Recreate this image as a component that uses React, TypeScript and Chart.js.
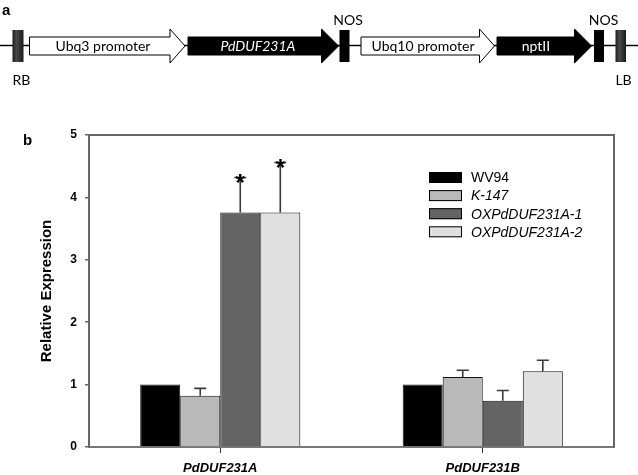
import React, { useEffect, useRef } from "react";
import { Chart, registerables } from "chart.js";
Chart.register(...registerables);

const categories = ["PdDUF231A", "PdDUF231B"];
const seriesNames = ["WV94", "K-147", "OXPdDUF231A-1", "OXPdDUF231A-2"];
const wv94 = [1.0, 1.0];
const k147 = [0.82, 1.12];
const ox1 = [3.76, 0.74];
const ox2 = [3.76, 1.215];
const wv94Err = [0, 0];
const k147Err = [0.12, 0.11];
const ox1Err = [0.56, 0.165];
const ox2Err = [0.8, 0.175];
const wv94Sig = ["", ""];
const k147Sig = ["", ""];
const ox1Sig = ["*", ""];
const ox2Sig = ["*", ""];
const yMin = 0;
const yMax = 5;
const yStep = 1;
const yTitle = "Relative Expression";
const constructLabels = ["Ubq3 promoter", "PdDUF231A", "NOS", "Ubq10 promoter", "nptII", "NOS", "RB", "LB"];

const seriesColors = ["#000000", "#b9b9b9", "#646464", "#e0e0e0"];
const legendItalic = [false, true, true, true];

const errs = [wv94Err, k147Err, ox1Err, ox2Err];
const sigs = [wv94Sig, k147Sig, ox1Sig, ox2Sig];

const framePlugin = {
  id: "frame",
  afterDraw(chart: any) {
    const { ctx, chartArea } = chart;
    ctx.save();
    ctx.strokeStyle = "#666";
    ctx.lineWidth = 2;
    ctx.beginPath();
    ctx.moveTo(chartArea.left, chartArea.top);
    ctx.lineTo(chartArea.right, chartArea.top);
    ctx.lineTo(chartArea.right, chartArea.bottom);
    ctx.stroke();
    ctx.restore();
  },
};

const errorPlugin = {
  id: "errbars",
  afterDatasetsDraw(chart: any) {
    const { ctx } = chart;
    const yScale = chart.scales.y;
    ctx.save();
    chart.data.datasets.forEach((ds: any, i: number) => {
      const meta = chart.getDatasetMeta(i);
      meta.data.forEach((bar: any, j: number) => {
        const e = errs[i][j];
        const top = yScale.getPixelForValue(ds.data[j] + e);
        if (e > 0) {
          ctx.strokeStyle = "#3a3a3a";
          ctx.lineWidth = 1.6;
          ctx.beginPath();
          ctx.moveTo(bar.x, bar.y);
          ctx.lineTo(bar.x, top);
          ctx.moveTo(bar.x - 6, top);
          ctx.lineTo(bar.x + 6, top);
          ctx.stroke();
        }
        const s = sigs[i][j];
        if (s) {
          ctx.fillStyle = "#000";
          ctx.font = "bold 24px Arial, 'Liberation Sans', sans-serif";
          ctx.textAlign = "center";
          ctx.textBaseline = "alphabetic";
          ctx.fillText(s, bar.x, top + 14);
        }
      });
    });
    ctx.restore();
  },
};

const legendPlugin = {
  id: "customLegend",
  afterDraw(chart: any) {
    const { ctx } = chart;
    ctx.save();
    chart.data.datasets.forEach((ds: any, i: number) => {
      const cy = 177.5 + i * 18.1;
      ctx.fillStyle = ds.backgroundColor;
      ctx.fillRect(429, cy - 5.5, 33, 11);
      ctx.strokeStyle = "#000";
      ctx.lineWidth = 1;
      ctx.strokeRect(429.5, cy - 5, 32, 10);
      ctx.fillStyle = "#000";
      ctx.font = (legendItalic[i] ? "italic " : "") + "14px Arial, 'Liberation Sans', sans-serif";
      ctx.textAlign = "left";
      ctx.textBaseline = "middle";
      ctx.fillText(ds.label, 471, cy + 1);
    });
    ctx.restore();
  },
};

function arrow(ctx: any, x0: number, x1: number, tip: number, fill: string) {
  ctx.beginPath();
  ctx.moveTo(x0, 37);
  ctx.lineTo(x1, 37);
  ctx.lineTo(x1, 29);
  ctx.lineTo(tip, 46);
  ctx.lineTo(x1, 63);
  ctx.lineTo(x1, 55);
  ctx.lineTo(x0, 55);
  ctx.closePath();
  ctx.fillStyle = fill;
  ctx.fill();
  ctx.strokeStyle = "#000";
  ctx.lineWidth = 1;
  ctx.stroke();
}

function border(ctx: any, x: number, w: number, dark: boolean) {
  if (dark) {
    const g = ctx.createLinearGradient(x, 0, x + w, 0);
    g.addColorStop(0, "#1a1a1a");
    g.addColorStop(0.35, "#4a4a4a");
    g.addColorStop(1, "#1a1a1a");
    ctx.fillStyle = g;
  } else {
    ctx.fillStyle = "#000";
  }
  ctx.fillRect(x, 30, w, 32);
}

const constructPlugin = {
  id: "construct",
  afterDraw(chart: any) {
    const { ctx } = chart;
    ctx.save();
    ctx.strokeStyle = "#000";
    ctx.lineWidth = 1.5;
    ctx.beginPath();
    ctx.moveTo(0, 45.5);
    ctx.lineTo(638, 45.5);
    ctx.stroke();

    border(ctx, 12.5, 11, true);
    arrow(ctx, 29.5, 170, 185, "#ffffff");
    arrow(ctx, 188, 321.5, 338.5, "#000000");
    border(ctx, 339.5, 10, false);
    arrow(ctx, 361, 479.5, 494.5, "#ffffff");
    arrow(ctx, 497, 574.5, 591.5, "#000000");
    border(ctx, 594, 10, false);
    border(ctx, 615.5, 10.5, true);

    const f = "14px Lato, 'Open Sans', sans-serif";
    ctx.textAlign = "center";
    ctx.textBaseline = "middle";
    ctx.font = f;
    ctx.fillStyle = "#000";
    ctx.fillText(constructLabels[0], 103, 46.5);
    ctx.fillStyle = "#fff";
    ctx.font = "italic " + f;
    ctx.fillText(constructLabels[1], 258, 46.5);
    ctx.font = f;
    ctx.fillStyle = "#000";
    ctx.fillText(constructLabels[2], 348, 20);
    ctx.fillText(constructLabels[3], 423, 46.5);
    ctx.fillStyle = "#fff";
    ctx.fillText(constructLabels[4], 536, 46.5);
    ctx.fillStyle = "#000";
    ctx.fillText(constructLabels[5], 603.5, 20);
    ctx.fillText(constructLabels[6], 21.5, 80);
    ctx.fillText(constructLabels[7], 623.5, 80);

    ctx.textAlign = "left";
    ctx.textBaseline = "alphabetic";
    ctx.font = "bold 15px Arial, 'Liberation Sans', sans-serif";
    ctx.fillText("a", 2, 15);
    ctx.fillText("b", 23, 145);
    ctx.restore();
  },
};

export default function App() {
  const ref = useRef<HTMLCanvasElement>(null);
  useEffect(() => {
    if (!ref.current) return;
    const values = [wv94, k147, ox1, ox2];
    const chart = new Chart(ref.current, {
      type: "bar",
      data: {
        labels: categories,
        datasets: seriesNames.map((name, i) => ({
          label: name,
          data: values[i],
          backgroundColor: seriesColors[i],
          borderColor: "#111",
          borderWidth: 1,
          categoryPercentage: 0.61,
          barPercentage: 1.0,
        })),
      },
      options: {
        responsive: false,
        animation: false,
        devicePixelRatio: 1,
        layout: { padding: { left: 0, top: 135, right: 24, bottom: 0 } },
        plugins: { legend: { display: false }, tooltip: { enabled: false } },
        scales: {
          x: {
            type: "category",
            offset: true,
            grid: { offset: false, drawOnChartArea: false, tickLength: 6, color: "#333", lineWidth: 1 },
            border: { color: "#777", width: 2 },
            ticks: {
              color: "#000",
              padding: 8,
              font: { family: "Arial, 'Liberation Sans', sans-serif", size: 13, weight: "bold", style: "italic" },
            },
            afterFit: (s: any) => {
              s.height = 28;
            },
          },
          y: {
            min: yMin,
            max: yMax,
            ticks: {
              stepSize: yStep,
              color: "#000",
              padding: 8,
              font: { family: "Arial, 'Liberation Sans', sans-serif", size: 12, weight: "bold" },
            },
            grid: { drawOnChartArea: false, tickLength: 4, color: "#666", lineWidth: 1.5 },
            border: { color: "#666", width: 2 },
            title: {
              display: true,
              text: yTitle,
              color: "#000",
              padding: { top: 38, bottom: 0 },
              font: { family: "Arial, 'Liberation Sans', sans-serif", size: 15, weight: "bold" },
            },
            afterFit: (s: any) => {
              s.width = 89;
            },
          },
        },
      },
      plugins: [framePlugin, errorPlugin, legendPlugin, constructPlugin],
    } as any);
    return () => chart.destroy();
  }, []);
  return (
    <div style={{ position: "absolute", left: 0, top: 0, width: 638, height: 475, background: "#fff" }}>
      <canvas ref={ref} width={638} height={475} />
    </div>
  );
}
